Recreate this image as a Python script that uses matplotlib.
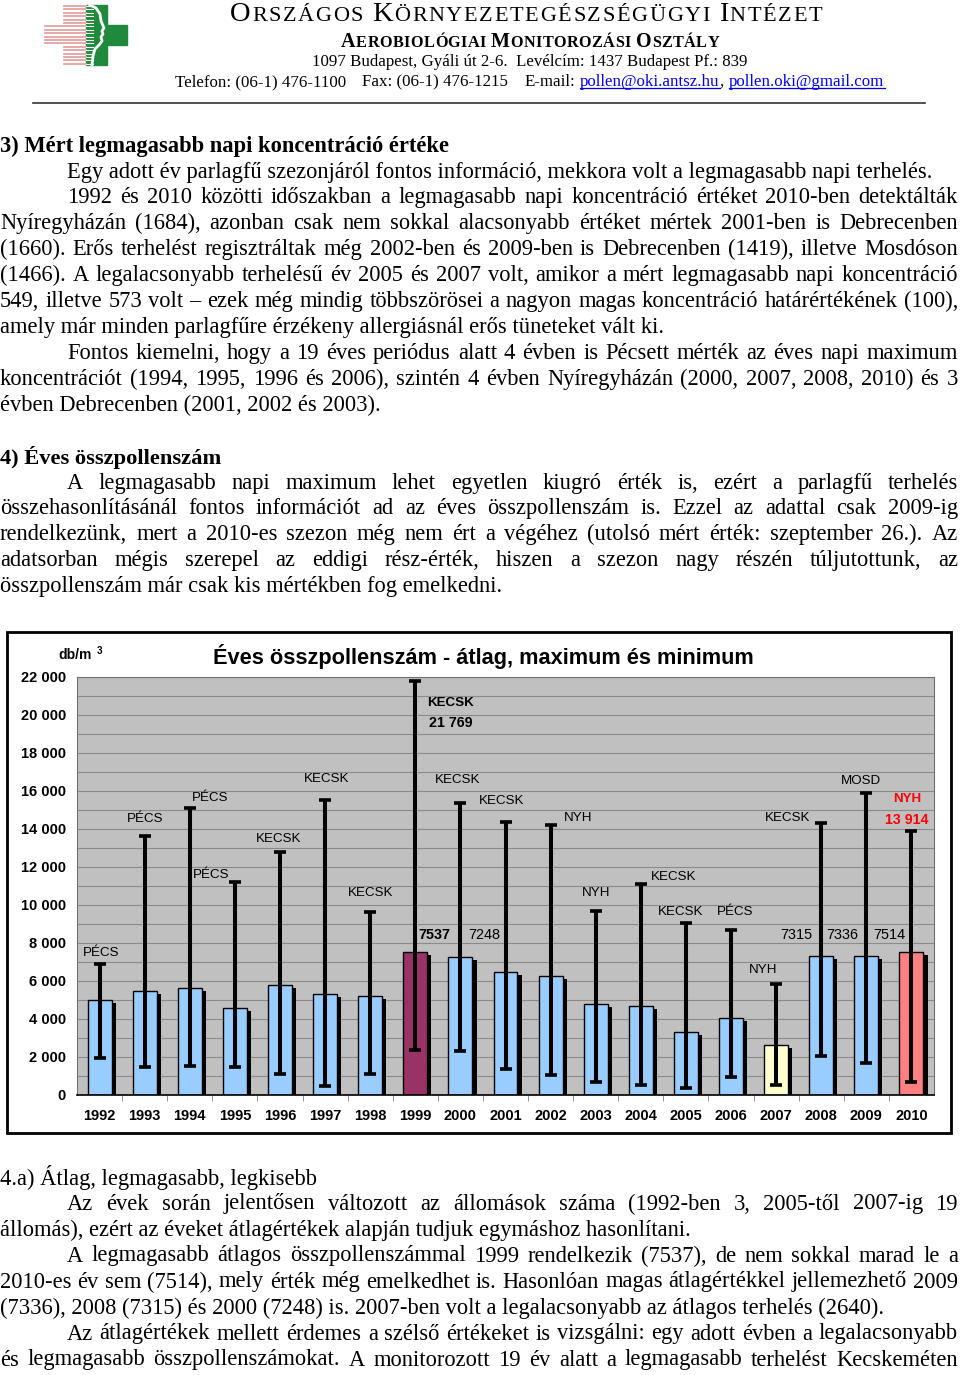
import matplotlib
matplotlib.use("Agg")
import matplotlib.pyplot as plt
import matplotlib.patheffects as pe
from matplotlib.patches import Rectangle
import numpy as np

SERIF = "Liberation Serif"
SANS = "Liberation Sans"

# chart data (db/m3)
years = ["1992", "1993", "1994", "1995", "1996", "1997", "1998", "1999", "2000", "2001",
         "2002", "2003", "2004", "2005", "2006", "2007", "2008", "2009", "2010"]
average = [5000, 5490, 5630, 4560, 5770, 5330, 5190, 7537, 7248, 6490,
           6280, 4770, 4700, 3330, 4070, 2640, 7315, 7336, 7514]
maximum = [6880, 13650, 15090, 11210, 12800, 15530, 9610, 21769, 15390, 14370,
           14230, 9680, 11130, 9050, 8670, 5860, 14330, 15910, 13914]
minimum = [1960, 1470, 1530, 1470, 1100, 460, 1100, 2380, 2320, 1380,
           1040, 680, 540, 370, 960, 540, 2040, 1680, 680]
max_station = ["PÉCS", "PÉCS", "PÉCS", "PÉCS", "KECSK", "KECSK", "KECSK", "KECSK", "KECSK", "KECSK",
               "NYH", "NYH", "KECSK", "KECSK", "PÉCS", "NYH", "KECSK", "MOSD", "NYH"]
avg_labelled = ["1999", "2000", "2008", "2009", "2010"]

# label placement (pixels from the cap / bar top)
station_offsets = [(1.5, 11), (0, 17), (20, 10), (-24, 7), (-1, 13), (2, 21), (0, 19), (35, -22),
                   (-3, 23), (-4, 21), (28, 7), (0, 18), (33, 7), (-5, 11), (4, 18), (-13, 14),
                   (-34, 5), (-5, 12), (-4, 32)]
avg_offsets = {"1999": (19, 17), "2000": (24, 22), "2008": (-25, 21), "2009": (-24, 21), "2010": (-22, 17)}
bar_special = {"1999": "#993366", "2007": "#ffffcc", "2010": "#ff8080"}

# page text
section3 = [
    (67, "Egy adott év parlagfű szezonjáról fontos információ, mekkora volt a legmagasabb napi terhelés.", False),
    (67, "1992 és 2010 közötti időszakban a legmagasabb napi koncentráció értéket 2010-ben detektálták", True),
    (0, "Nyíregyházán (1684), azonban csak nem sokkal alacsonyabb értéket mértek 2001-ben is Debrecenben", True),
    (0, "(1660). Erős terhelést regisztráltak még 2002-ben és 2009-ben is Debrecenben (1419), illetve Mosdóson", True),
    (0, "(1466). A legalacsonyabb terhelésű év 2005 és 2007 volt, amikor a mért legmagasabb napi koncentráció", True),
    (0, "549, illetve 573 volt – ezek még mindig többszörösei a nagyon magas koncentráció határértékének (100),", True),
    (0, "amely már minden parlagfűre érzékeny allergiásnál erős tüneteket vált ki.", False),
    (67, "Fontos kiemelni, hogy a 19 éves periódus alatt 4 évben is Pécsett mérték az éves napi maximum", True),
    (0, "koncentrációt (1994, 1995, 1996 és 2006), szintén 4 évben Nyíregyházán (2000, 2007, 2008, 2010) és 3", True),
    (0, "évben Debrecenben (2001, 2002 és 2003).", False),
]
section4 = [
    (67, "A legmagasabb napi maximum lehet egyetlen kiugró érték is, ezért a parlagfű terhelés", True),
    (0, "összehasonlításánál fontos információt ad az éves összpollenszám is. Ezzel az adattal csak 2009-ig", True),
    (0, "rendelkezünk, mert a 2010-es szezon még nem ért a végéhez (utolsó mért érték: szeptember 26.). Az", True),
    (0, "adatsorban mégis szerepel az eddigi rész-érték, hiszen a szezon nagy részén túljutottunk, az", True),
    (0, "összpollenszám már csak kis mértékben fog emelkedni.", False),
]
section4a = [
    (67, "Az évek során jelentősen változott az állomások száma (1992-ben 3, 2005-től 2007-ig 19", True),
    (0, "állomás), ezért az éveket átlagértékek alapján tudjuk egymáshoz hasonlítani.", False),
    (67, "A legmagasabb átlagos összpollenszámmal 1999 rendelkezik (7537), de nem sokkal marad le a", True),
    (0, "2010-es év sem (7514), mely érték még emelkedhet is. Hasonlóan magas átlagértékkel jellemezhető 2009", True),
    (0, "(7336), 2008 (7315) és 2000 (7248) is. 2007-ben volt a legalacsonyabb az átlagos terhelés (2640).", False),
    (67, "Az átlagértékek mellett érdemes a szélső értékeket is vizsgálni: egy adott évben a legalacsonyabb", True),
    (0, "és legmagasabb összpollenszámokat. A monitorozott 19 év alatt a legmagasabb terhelést Kecskeméten", True),
]

fig = plt.figure(figsize=(9.6, 13.75), dpi=100)
page = fig.add_axes([0, 0, 1, 1])
page.set_xlim(0, 960)
page.set_ylim(1375, 0)
page.axis("off")
renderer = fig.canvas.get_renderer()


def width_of(s, size, weight="normal", family=SERIF):
    t = page.text(0, 0, s, fontsize=size, fontweight=weight, family=family)
    w = t.get_window_extent(renderer).width
    t.remove()
    return w


def fit(s, width, weight="normal", family=SERIF):
    return 20 * width / width_of(s, 20, weight, family)


def line(x0, x1, y, s, size, justify=True, weight="normal", family=SERIF):
    if not justify:
        page.text(x0, y, s, fontsize=size, fontweight=weight, family=family, va="center")
        return
    words = s.split(" ")
    widths = [width_of(w, size, weight, family) for w in words]
    space = 0.2 * size * 100 / 72
    natural = sum(widths) + space * (len(words) - 1)
    if natural > x1 - x0:
        size = size * (x1 - x0) / natural
        widths = [width_of(w, size, weight, family) for w in words]
    gap = (x1 - x0 - sum(widths)) / (len(words) - 1)
    x = x0
    for w, wd in zip(words, widths):
        page.text(x, y, w, fontsize=size, fontweight=weight, family=family, va="center")
        x += wd + gap


def small_caps(x0, x1, y, s, big, small, weight="normal"):
    chars = []
    for word in s.split(" "):
        for k, c in enumerate(word):
            chars.append((c, big if k == 0 else small))
        chars.append((" ", small))
    chars.pop()
    widths = [width_of(c, sz, weight) if c != " " else 0.25 * sz * 100 / 72 for c, sz in chars]
    total = sum(widths)
    if total > x1 - x0:
        scale = (x1 - x0) / total
        chars = [(c, sz * scale) for c, sz in chars]
        widths = [w * scale for w in widths]
        total = sum(widths)
    track = (x1 - x0 - total) / (len(chars) - 1)
    x = x0
    for (c, sz), w in zip(chars, widths):
        if c != " ":
            page.text(x, y, c, fontsize=sz, fontweight=weight, family=SERIF, va="baseline")
        x += w + track


# ---- letterhead ----
green = "#1f8a3b"
pink = "#e39a9a"
for yy in np.arange(6, 65, 3.4):
    x_start = 45 if 25 <= yy <= 45 else 64
    page.plot([x_start, 86], [yy, yy], color=pink, lw=1.2)
page.add_patch(Rectangle((86, 5), 21, 60, color=green))
page.add_patch(Rectangle((107, 25), 20, 20, color=green))
for yy in np.arange(6, 65, 3.4):
    page.plot([86, 93], [yy, yy], color="white", lw=0.8)
profile_x = [90, 96, 100, 101, 104, 102, 103, 101, 102, 99, 95, 93, 92]
profile_y = [5, 8, 14, 21, 28, 31, 34, 37, 41, 45, 49, 56, 65]
page.plot(profile_x, profile_y, color="white", lw=2)

small_caps(230, 822, 21, "ORSZÁGOS KÖRNYEZETEGÉSZSÉGÜGYI INTÉZET", 20.5, 16)
small_caps(341, 719, 47, "AEROBIOLÓGIAI MONITOROZÁSI OSZTÁLY", 14.5, 11.7, weight="bold")
addr = "1097 Budapest, Gyáli út 2-6.  Levélcím: 1437 Budapest Pf.: 839"
page.text(312, 66, addr, fontsize=fit(addr, 435), family=SERIF, va="baseline")

contact = [("Telefon: (06-1) 476-1100", "black", 16), ("Fax: (06-1) 476-1215", "black", 17),
           ("E-mail:", "black", 4), ("pollen@oki.antsz.hu", "#0000ee", 0), (",", "black", 5),
           ("pollen.oki@gmail.com", "#0000ee", 0)]
seg_w = [width_of(s, 20) for s, _, _ in contact]
gaps = sum(g for _, _, g in contact)
csize = 20 * (885 - 175 - gaps) / sum(seg_w)
x = 175
for (s, col, g), w in zip(contact, seg_w):
    w = w * csize / 20
    page.text(x, 86, s, fontsize=csize, family=SERIF, color=col, va="baseline")
    if col != "black":
        page.plot([x, x + w], [88, 88], color=col, lw=0.9)
    x += w + g
page.plot([33, 925], [103, 103], color="#333333", lw=1.2)

# ---- section 3 ----
h3 = "3) Mért legmagasabb napi koncentráció értéke"
page.text(0, 146, h3, fontsize=fit(h3, 449, "bold"), fontweight="bold", family=SERIF, va="center")
s3 = fit(section3[0][1], 932 - 67)
for k, (x0, s, just) in enumerate(section3):
    line(x0, 958, 172 + k * 25.9, s, s3, just)

# ---- section 4 ----
h4 = "4) Éves összpollenszám"
page.text(0, 457, h4, fontsize=fit(h4, 221, "bold"), fontweight="bold", family=SERIF, va="center")
s4 = fit(section4[-1][1], 502)
for k, (x0, s, just) in enumerate(section4):
    line(x0, 958, 483 + k * 25.9, s, s4, just)

# ---- section 4.a ----
h4a = "4.a) Átlag, legmagasabb, legkisebb"
page.text(0, 1178, h4a, fontsize=fit(h4a, 317), family=SERIF, va="center")
s4a = fit(section4a[1][1], 690)
for k, (x0, s, just) in enumerate(section4a):
    line(x0, 958, 1204 + k * 26, s, s4a, just)

# ---- chart frame and title ----
page.add_patch(Rectangle((7, 632), 944, 501, fc="white", ec="black", lw=2))
title = "Éves összpollenszám - átlag, maximum és minimum"
page.text(483, 656, title, fontsize=fit(title, 539, "bold", SANS), fontweight="bold",
          family=SANS, ha="center", va="center")
page.text(58, 655, "db/m", fontsize=10, fontweight="bold", family=SANS, va="center")
page.text(97, 651, "3", fontsize=7, fontweight="bold", family=SANS, va="center")

# ---- chart ----
ax = fig.add_axes([77 / 960, 1 - 1095 / 1375, 857 / 960, 418 / 1375])
x = np.arange(len(years))
ax.set_xlim(-0.5, len(years) - 0.5)
ax.set_ylim(0, 22000)
ax.set_facecolor("#c0c0c0")
ax.set_yticks(np.arange(0, 22001, 2000))
ax.set_yticks(np.arange(0, 22001, 1000), minor=True)
ax.set_yticklabels([f"{v:,}".replace(",", " ") for v in range(0, 22001, 2000)])
ax.yaxis.grid(True, which="both", color="#8a8a8a", lw=0.8)
ax.set_axisbelow(True)
ax.set_xticks(x, years)
ax.set_xticks(x[:-1] + 0.5, minor=True)
ax.tick_params(axis="y", which="both", length=0, pad=8)
ax.tick_params(axis="x", which="major", length=0, pad=10)
ax.tick_params(axis="x", which="minor", length=4, color="#808080")
for lab in ax.get_xticklabels() + ax.get_yticklabels():
    lab.set_fontfamily(SANS)
    lab.set_fontweight("bold")
    lab.set_fontsize(10.5)
for side in ["top", "right", "left"]:
    ax.spines[side].set_color("#707070")
ax.spines["bottom"].set_color("black")
ax.spines["bottom"].set_linewidth(1.2)

colors = [bar_special.get(y, "#99ccff") for y in years]
ax.bar(x, average, width=0.53, color=colors, edgecolor="black", lw=1, zorder=2,
       path_effects=[pe.SimplePatchShadow(offset=(3, -2.2), shadow_rgbFace="black", alpha=1.0),
                     pe.Normal()])
avg_arr = np.array(average)
ax.errorbar(x, avg_arr, yerr=[avg_arr - np.array(minimum), np.array(maximum) - avg_arr],
            fmt="none", ecolor="black", elinewidth=2.9, capsize=4.6, capthick=2.6, zorder=3)

for i, (st, off) in enumerate(zip(max_station, station_offsets)):
    bold = years[i] in ("1999", "2010")
    col = "#ff0000" if years[i] == "2010" else "black"
    ax.annotate(st, (x[i], maximum[i]), xytext=off, textcoords="offset pixels",
                ha="center", va="center", fontsize=9.6, family=SANS, color=col,
                fontweight="bold" if bold else "normal", zorder=4)
value_offsets = {"1999": (35, -42), "2010": (-5, 11)}
for y, off in value_offsets.items():
    i = years.index(y)
    ax.annotate(f"{maximum[i]:,}".replace(",", " "), (x[i], maximum[i]), xytext=off,
                textcoords="offset pixels", ha="center", va="center", fontsize=10.3,
                family=SANS, fontweight="bold", color="#ff0000" if y == "2010" else "black", zorder=4)

for y in avg_labelled:
    i = years.index(y)
    ax.annotate(str(average[i]), (x[i], average[i]), xytext=avg_offsets[y], textcoords="offset pixels",
                ha="center", va="center", fontsize=10.4, family=SANS,
                fontweight="bold" if y == "1999" else "normal", zorder=4)

fig.savefig("out.png", dpi=100)
